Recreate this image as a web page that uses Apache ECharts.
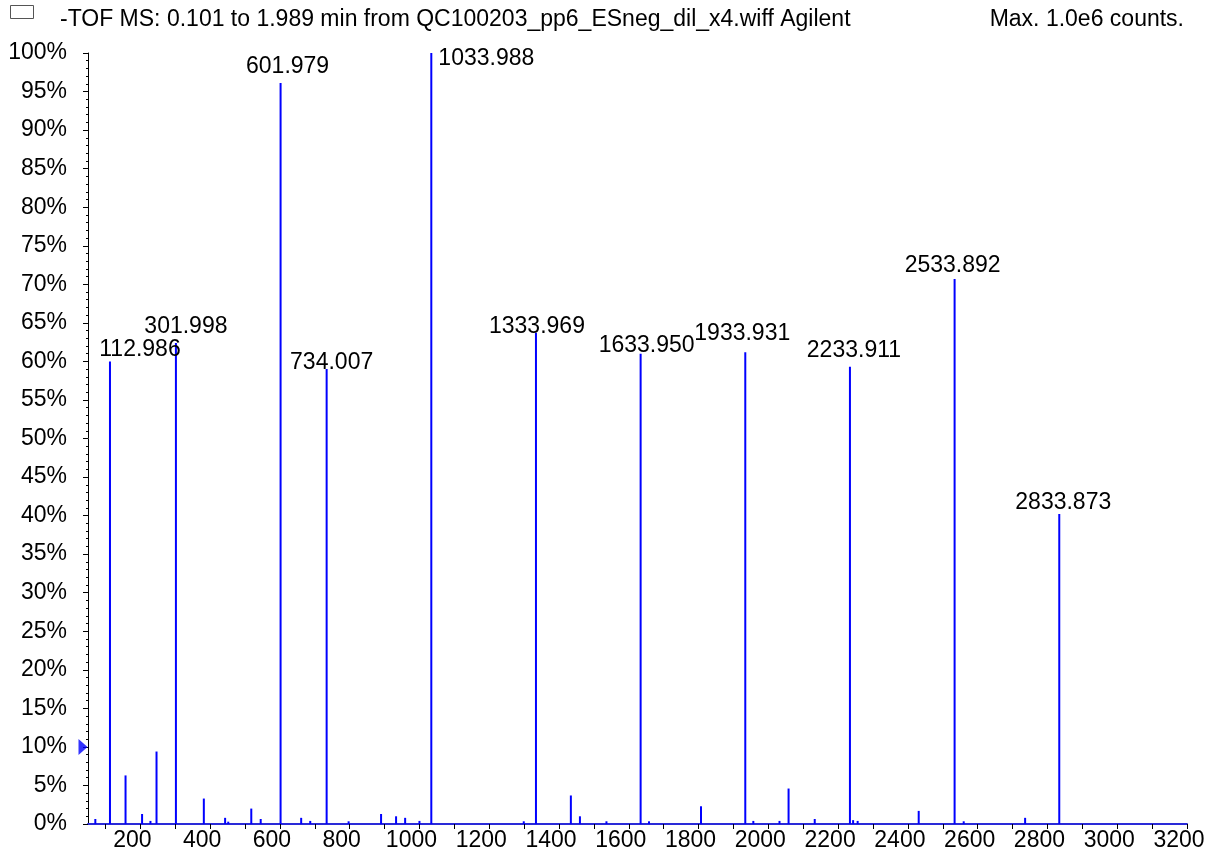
<!DOCTYPE html>
<html>
<head>
<meta charset="utf-8">
<script src="https://cdn.jsdelivr.net/npm/echarts@6/dist/echarts.min.js"></script>
<style>
html,body{margin:0;padding:0;background:#fff;}
#chart{width:1213px;height:860px;}
</style>
</head>
<body>
<div id="chart"></div>
<script>
// Labelled peaks (m/z, relative intensity %)
const peakMz = [112.986, 301.998, 601.979, 734.007, 1033.988, 1333.969, 1633.950, 1933.931, 2233.911, 2533.892, 2833.873];
const peakInt = [60.0, 62.4, 96.1, 59.0, 100.0, 63.7, 61.0, 61.2, 59.3, 70.7, 40.2];
// Minor peaks (m/z, relative intensity %)
const minorMz = [71, 157.6, 205, 229, 246.4, 382, 443, 452, 518, 545, 661, 687, 797, 890, 933, 959, 1000, 1299, 1434, 1460, 1536, 1658, 1807, 1957, 2032, 2058, 2133, 2243, 2256, 2431, 2560, 2736];
const minorInt = [0.65, 6.3, 1.3, 0.4, 9.4, 3.3, 0.8, 0.3, 2.0, 0.65, 0.8, 0.4, 0.35, 1.3, 1.0, 0.8, 0.4, 0.35, 3.7, 1.0, 0.35, 0.35, 2.3, 0.4, 0.4, 4.6, 0.65, 0.5, 0.4, 1.7, 0.35, 0.8];
// Axis ticks / labels
const xTicks = [100,200,300,400,500,600,700,800,900,1000,1100,1200,1300,1400,1500,1600,1700,1800,1900,2000,2100,2200,2300,2400,2500,2600,2700,2800,2900,3000,3100,3200];
const xLabels = [200,400,600,800,1000,1200,1400,1600,1800,2000,2200,2400,2600,2800,3000,3200];
const markerLevel = 10;

// label placement nudges (style only): [dx, px above peak top for label centre]
const labelNudge = [[30,12],[10,17],[7,17],[5,7],[55,-5],[1,7],[6,9],[-3,19],[4,17],[-2,14],[4,12]];

const FONT = '"Liberation Sans", Arial, Helvetica, sans-serif';
const FS = 23;
const chart = echarts.init(document.getElementById('chart'));

const mainData = peakMz.map((m, i) => ({
  value: [m, peakInt[i]],
  label: {
    show: true,
    position: 'top',
    distance: 0,
    offset: [labelNudge[i][0], 12 - labelNudge[i][1]],
    formatter: m.toFixed(3)
  }
}));
const minorData = minorMz.map((m, i) => [m, minorInt[i]]);

chart.setOption({
  animation: false,
  backgroundColor: '#ffffff',
  title: [
    {text: '-TOF MS: 0.101 to 1.989 min from QC100203_pp6_ESneg_dil_x4.wiff Agilent', left: 60, top: 8, padding: 0,
     textStyle: {fontFamily: FONT, fontSize: FS, fontWeight: 'normal', color: '#000'}},
    {text: 'Max. 1.0e6 counts.', right: 29, top: 8, padding: 0,
     textStyle: {fontFamily: FONT, fontSize: FS, fontWeight: 'normal', color: '#000'}}
  ],
  graphic: [
    {type: 'rect', left: 10, top: 5, shape: {width: 23, height: 13},
     style: {fill: '#fff', stroke: '#555', lineWidth: 1}}
  ],
  grid: {left: 88, right: 26, top: 53, bottom: 36, containLabel: false},
  xAxis: {
    type: 'value', min: 50, max: 3200,
    axisLine: {show: true, lineStyle: {color: '#2a2ad8', width: 2}},
    axisTick: {show: true, length: 5, customValues: xTicks, lineStyle: {color: '#000'}},
    axisLabel: {customValues: xLabels, formatter: v => String(v), fontFamily: FONT, fontSize: FS, color: '#000', margin: 5, padding: [0, 16, 0, 0]},
    splitLine: {show: false}
  },
  yAxis: {
    type: 'value', min: 0, max: 100, interval: 5,
    axisLine: {show: true, lineStyle: {color: '#000', width: 1}},
    axisTick: {show: true, length: 5, lineStyle: {color: '#000'}},
    minorTick: {show: true, splitNumber: 5, length: 2, lineStyle: {color: '#000'}},
    axisLabel: {formatter: '{value}%', fontFamily: FONT, fontSize: FS, color: '#000', margin: 21},
    splitLine: {show: false}
  },
  series: [
    {type: 'bar', data: minorData, barWidth: 2, barGap: '-100%', itemStyle: {color: '#0000ff'}, silent: true},
    {type: 'bar', data: mainData, barWidth: 2, barGap: '-100%', itemStyle: {color: '#0000ff'},
     label: {fontFamily: FONT, fontSize: FS, color: '#000'}, silent: true},
    {type: 'scatter', data: [[50, markerLevel]], symbol: 'triangle', symbolSize: [16, 9], symbolRotate: -90,
     symbolOffset: [-5, 0], itemStyle: {color: '#0000ff'}, clip: false, silent: true, z: 5}
  ]
});
</script>
</body>
</html>
